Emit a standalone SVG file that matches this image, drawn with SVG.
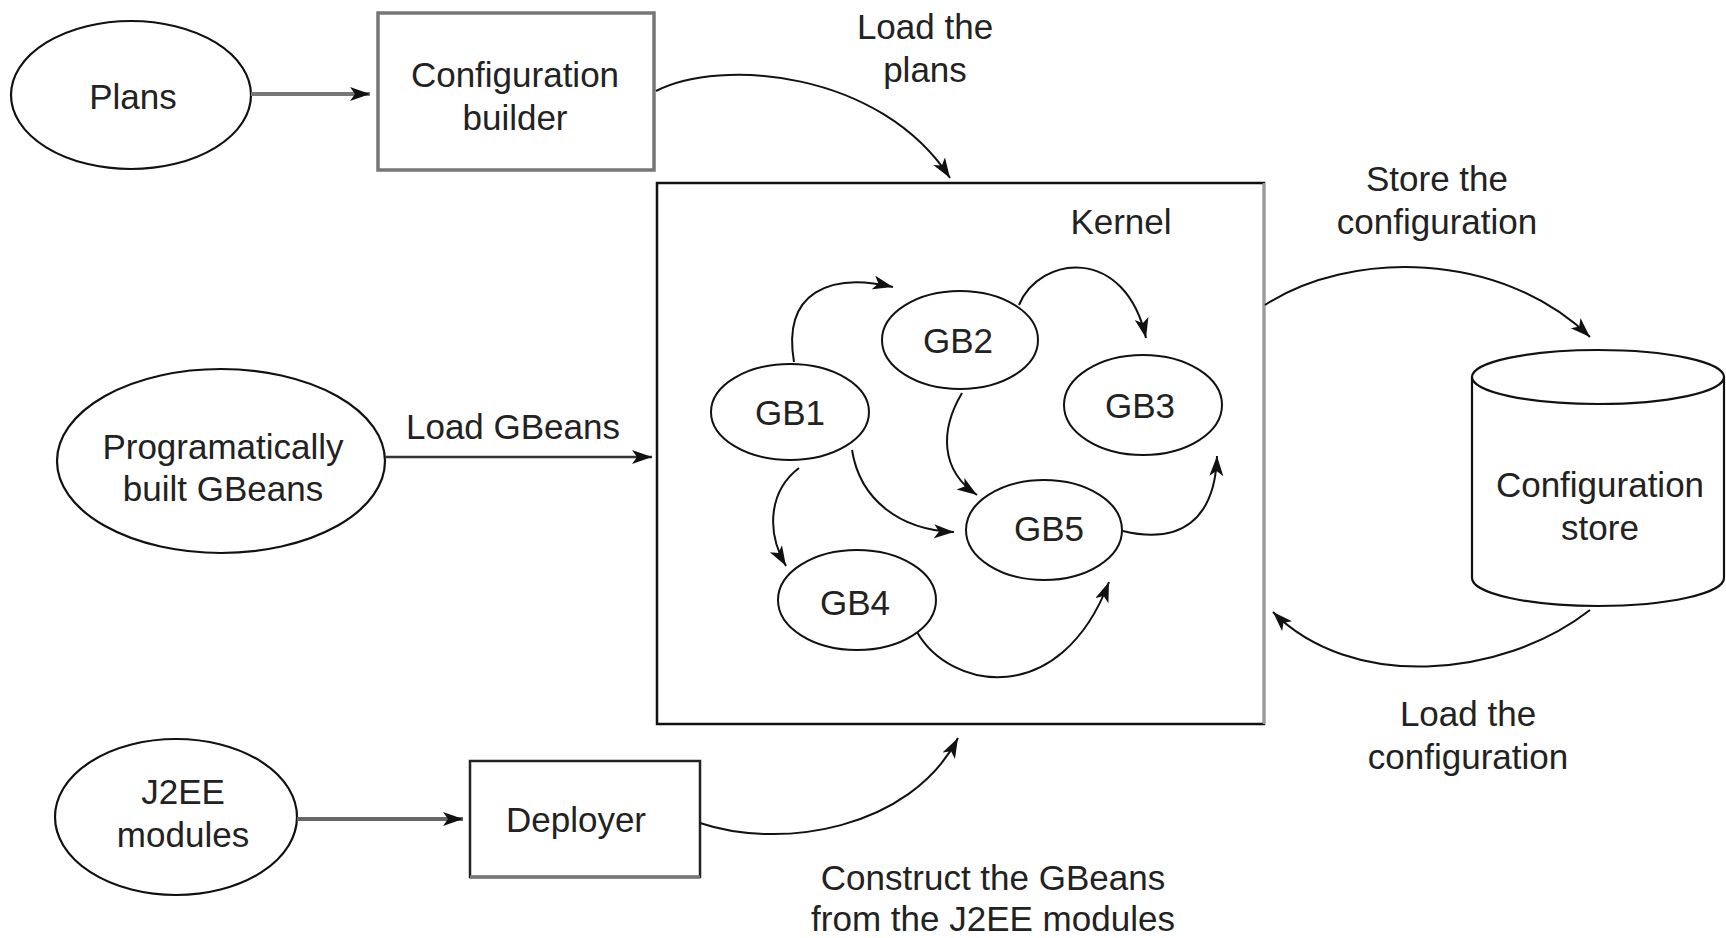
<svg xmlns="http://www.w3.org/2000/svg" width="1726" height="938" viewBox="0 0 1726 938">
<style>
.t{font-family:"Liberation Sans",Arial,sans-serif;font-size:35px;fill:#222;text-anchor:middle;dominant-baseline:central}
.n{fill:#fff;stroke:#111;stroke-width:2.2}
.g{fill:#fff;stroke:#111;stroke-width:2}
.c{fill:none;stroke:#111;stroke-width:2}
</style>
<defs>
<marker id="a" markerUnits="userSpaceOnUse" markerWidth="24" markerHeight="16" refX="20" refY="7" orient="auto">
<path d="M0,0 L20,7 L0,14 L5,7 z" fill="#111"/>
</marker>
</defs>
<rect width="1726" height="938" fill="#fff"/>

<g id="plans"><ellipse class="n" cx="131" cy="95" rx="120" ry="74"/><text class="t" x="133" y="96">Plans</text></g>
<g id="config-builder"><rect x="378" y="13" width="276" height="157" fill="#fff" stroke="#777" stroke-width="3.5"/><text class="t" x="515" y="74">Configuration</text><text class="t" x="515" y="117">builder</text></g>
<g id="programatic"><ellipse class="n" cx="221" cy="461" rx="164" ry="92"/><text class="t" x="223" y="446">Programatically</text><text class="t" x="223" y="488">built GBeans</text></g>
<g id="j2ee"><ellipse class="n" cx="176" cy="817" rx="121" ry="78"/><text class="t" x="183" y="791">J2EE</text><text class="t" x="183" y="834">modules</text></g>
<g id="deployer"><rect x="470" y="761" width="230" height="116" fill="#fff" stroke="#222" stroke-width="2.5"/><line x1="470" y1="877" x2="700" y2="877" stroke="#777" stroke-width="3.5"/><text class="t" x="576" y="819">Deployer</text></g>
<g id="kernel"><rect x="657" y="183" width="607" height="541" fill="#fff" stroke="#111" stroke-width="2.5"/><line x1="1264" y1="183" x2="1264" y2="724" stroke="#999" stroke-width="2.5"/><text class="t" x="1121" y="221">Kernel</text></g>
<g id="gb1"><ellipse class="g" cx="790" cy="412" rx="79" ry="48"/><text class="t" x="790" y="412">GB1</text></g>
<g id="gb2"><ellipse class="g" cx="960" cy="340" rx="78" ry="49"/><text class="t" x="958" y="340">GB2</text></g>
<g id="gb3"><ellipse class="g" cx="1143" cy="405" rx="79" ry="50"/><text class="t" x="1140" y="405">GB3</text></g>
<g id="gb4"><ellipse class="g" cx="857" cy="600" rx="79" ry="50"/><text class="t" x="855" y="602">GB4</text></g>
<g id="gb5"><ellipse class="g" cx="1044" cy="530" rx="78" ry="50"/><text class="t" x="1049" y="528">GB5</text></g>
<g id="config-store">
<path d="M1472,377 L1472,578 A126,28 0 0 0 1724,578 L1724,377" fill="#fff" stroke="#111" stroke-width="2.2"/>
<ellipse cx="1598" cy="377" rx="126" ry="27" fill="#fff" stroke="#111" stroke-width="2.2"/>
<text class="t" x="1600" y="484">Configuration</text><text class="t" x="1600" y="527">store</text></g>

<g id="connectors">
<path d="M251,94 L370,94" fill="none" stroke="#777" stroke-width="4" marker-end="url(#a)"/>
<path d="M385,457 L652,457" fill="none" stroke="#333" stroke-width="2.5" marker-end="url(#a)"/>
<path d="M297,819 L463,819" fill="none" stroke="#666" stroke-width="4" marker-end="url(#a)"/>
<path class="c" d="M656,91 C720,58 880,70 950,178" marker-end="url(#a)"/>
<path class="c" d="M794,362 C782,292 830,272 893,287" marker-end="url(#a)"/>
<path class="c" d="M1019,305 C1040,255 1125,245 1146,338" marker-end="url(#a)"/>
<path class="c" d="M962,393 C940,430 940,470 977,495" marker-end="url(#a)"/>
<path class="c" d="M852,450 C860,500 900,530 954,532" marker-end="url(#a)"/>
<path class="c" d="M799,468 C770,490 765,530 786,566" marker-end="url(#a)"/>
<path class="c" d="M1123,531 C1180,545 1215,520 1217,456" marker-end="url(#a)"/>
<path class="c" d="M917,632 C950,690 1060,710 1109,582" marker-end="url(#a)"/>
<path class="c" d="M1265,305 C1350,250 1500,250 1590,337" marker-end="url(#a)"/>
<path class="c" d="M1590,610 C1500,680 1350,690 1273,612" marker-end="url(#a)"/>
<path class="c" d="M700,823 C780,850 910,830 958,738" marker-end="url(#a)"/>
</g>

<g id="labels">
<text class="t" x="925" y="26">Load the</text><text class="t" x="925" y="69">plans</text>
<text class="t" x="513" y="426">Load GBeans</text>
<text class="t" x="1437" y="178">Store the</text><text class="t" x="1437" y="221">configuration</text>
<text class="t" x="1468" y="713">Load the</text><text class="t" x="1468" y="756">configuration</text>
<text class="t" x="993" y="877">Construct the GBeans</text><text class="t" x="993" y="918">from the J2EE modules</text>
</g>
</svg>
